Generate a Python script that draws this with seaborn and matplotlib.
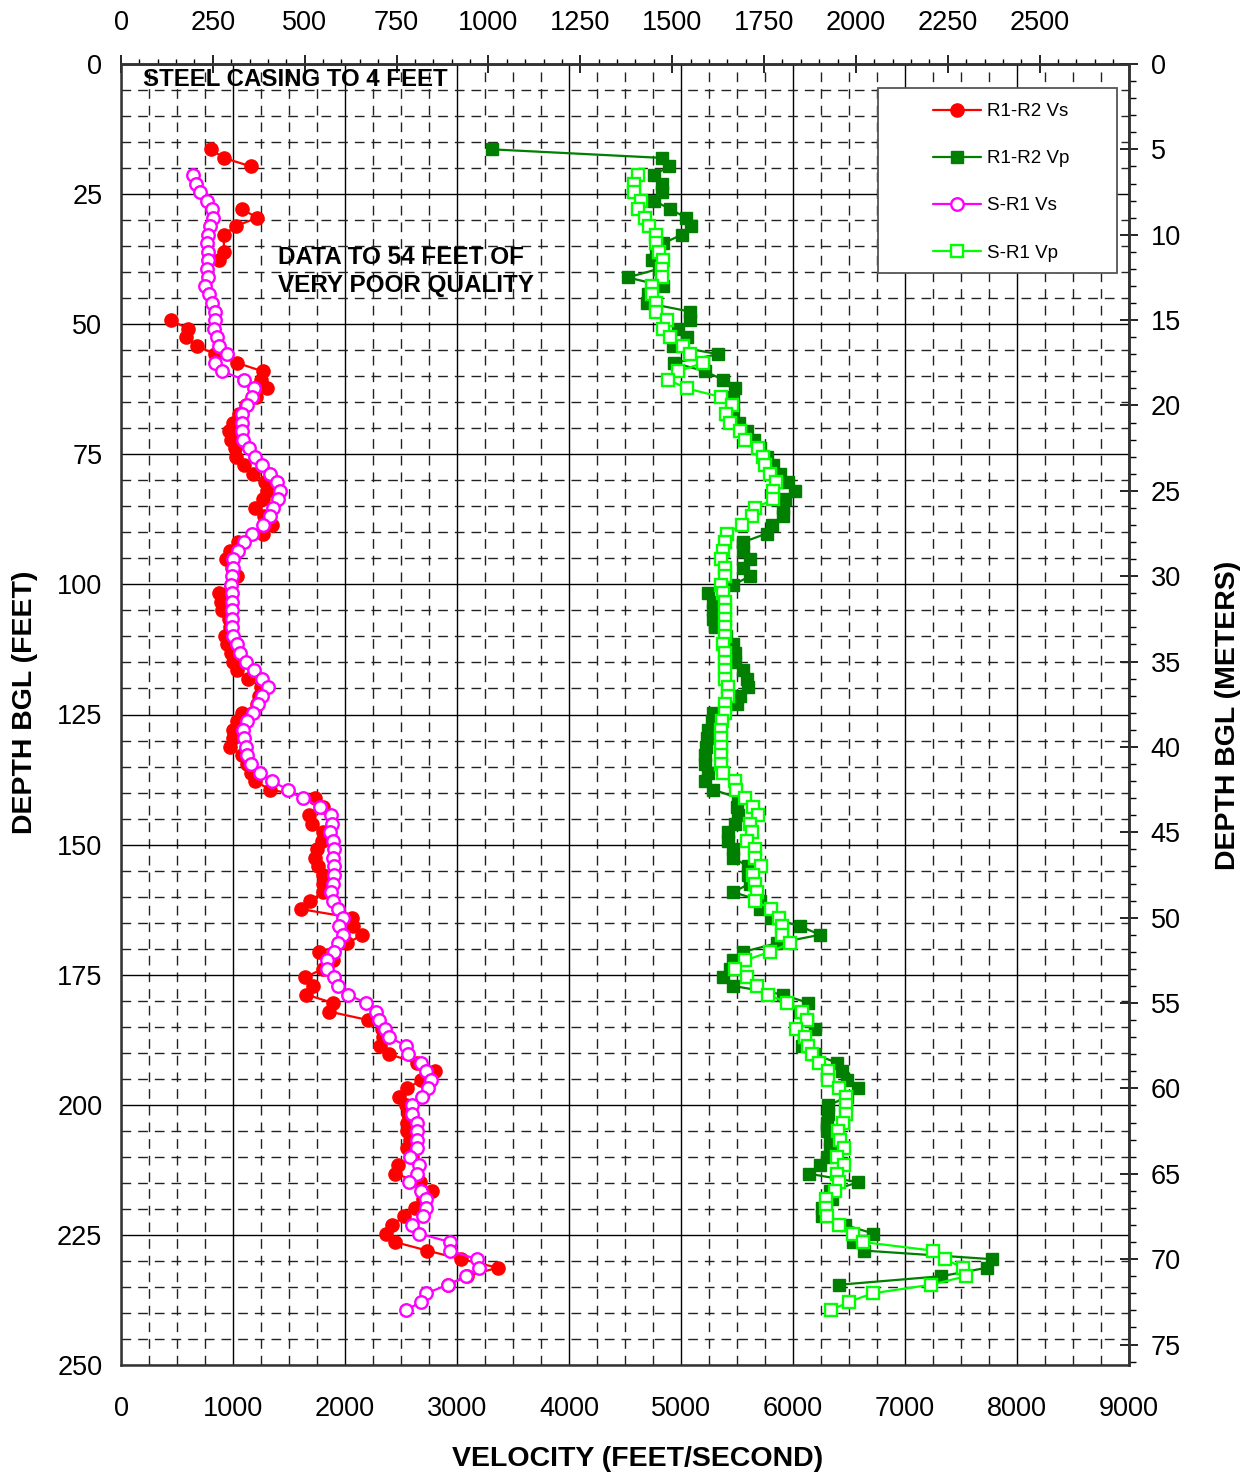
import numpy as np
import pandas as pd
import matplotlib
matplotlib.use("Agg")
import matplotlib.pyplot as plt
from matplotlib.ticker import MultipleLocator, FixedLocator
from matplotlib.lines import Line2D
from matplotlib.patches import Rectangle
import seaborn as sns

FT_PER_M = 3.28084

# ---------------- data (depth in metres, velocity in ft/s) ----------------
# R1-R2 Vs (NaN = gap in record)
r1_vs_depth_m = [5.0, 5.5, 6.0, 7.0, 8.5, 9.0, 9.5, 10.0, 11.0, 11.5, 12.0,
                 15.0, 15.5, 16.0, 16.5, 17.0, 17.5, 18.0, 18.5, 19.0, 19.5,
                 20.0, 20.5, 21.0, 21.5, 22.0, 22.5, 23.0, 23.5, 24.0, 24.5,
                 25.0, 25.5, 26.0, 26.5, 27.0, 27.5, 28.0, 28.5, 29.0, 29.5,
                 30.0, 30.5, 31.0, 31.5, 32.0, 32.5, 33.0, 33.5, 34.0, 34.5,
                 35.0, 35.5, 36.0, 36.5, 37.0, 37.5, 38.0, 38.5, 39.0, 39.5,
                 40.0, 40.5, 41.0, 41.5, 42.0, 42.5, 43.0, 43.5, 44.0, 44.5,
                 45.0, 45.5, 46.0, 46.5, 47.0, 47.5, 48.0, 48.5, 49.0, 49.5,
                 50.0, 50.5, 51.0, 51.5, 52.0, 52.5, 53.0, 53.5, 54.0, 54.5,
                 55.0, 55.5, 56.0, 56.5, 57.0, 57.5, 58.0, 58.5, 59.0, 59.5,
                 60.0, 60.5, 61.0, 61.5, 62.0, 62.5, 63.0, 63.5, 64.0, 64.5,
                 65.0, 65.5, 66.0, 66.5, 67.0, 67.5, 68.0, 68.5, 69.0, 69.5,
                 70.0, 70.5, 71.0, 71.5]
r1_vs_vel = [804, 917, 1161, np.nan, 1077, 1217, 1024, 917, 920, 875, np.nan,
             446, 595, 580, 676, 839, 1033, 1265, 1250, 1301, 1205,
             1120, 1057, 1003, 967, 982, 1018, 1024, 1101, 1181, 1286,
             1301, 1271, 1196, 1280, 1345, 1271, 1048, 973, 935, 990,
             1039, 980, 875, 890, 900, 960, 975, 929, 944, 980,
             1003, 1033, 1137, 1250, 1230, 1211, 1077, 1033, 1003, 1003,
             973, 1080, 1122, 1160, 1196, 1330, 1732, 1807, 1681, 1702,
             1807, 1792, 1747, 1732, 1762, 1801, 1801, 1807, 1688, 1607,
             2060, 2068, 2155, 2021, 1771, 1896, 1800, 1643, 1717, 1652,
             1896, 1860, 2208, 2330, 2340, 2312, 2393, 2640, 2804, 2680,
             2557, 2482, 2545, 2560, 2551, 2557, 2580, 2557, 2600, 2476,
             2447, 2670, 2774, 2700, 2625, 2527, 2417, 2366, 2447, 2735,
             3036, 3363, 3087, 2923]

# R1-R2 Vp
r1_vp_depth_m = [5.0, 5.5, 6.0, 6.5, 7.0, 7.5, 8.0, 8.5, 9.0, 9.5,
                 10.0, 10.5, 11.0, 11.5, 12.0, 12.5, 13.0, 13.5, 14.0, 14.5,
                 15.0, 15.5, 16.0, 16.5, 17.0, 17.5, 18.0, 18.5, 19.0, 19.5,
                 20.0, 20.5, 21.0, 21.5, 22.0, 22.5, 23.0, 23.5, 24.0, 24.5,
                 25.0, 25.5, 26.0, 26.5, 27.0, 27.5, 28.0, 28.5, 29.0, 29.5,
                 30.0, 30.5, 31.0, 31.5, 32.0, 32.5, 33.0, 33.5, 34.0, 34.5,
                 35.0, 35.5, 36.0, 36.5, 37.0, 37.5, 38.0, 38.5, 39.0, 39.5,
                 40.0, 40.5, 41.0, 41.5, 42.0, 42.5, 43.0, 43.5, 44.0, 44.5,
                 45.0, 45.5, 46.0, 46.5, 47.0, 47.5, 48.0, 48.5, 49.0, 49.5,
                 50.0, 50.5, 51.0, 51.5, 52.0, 52.5, 53.0, 53.5, 54.0, 54.5,
                 55.0, 55.5, 56.0, 56.5, 57.0, 57.5, 58.0, 58.5, 59.0, 59.5,
                 60.0, 60.5, 61.0, 61.5, 62.0, 62.5, 63.0, 63.5, 64.0, 64.5,
                 65.0, 65.5, 66.0, 66.5, 67.0, 67.5, 68.0, 68.5, 69.0, 69.5,
                 70.0, 70.5, 71.0, 71.5]
r1_vp_vel = [3315, 4828, 4893, 4759, 4828, 4828, 4759, 4902, 5045, 5087,
             5006, 4842, 4780, 4744, 4800, 4524, 4842, 4708, 4694, 5080,
             5080, 4976, 5051, 4926, 5333, 4938, 5214, 5378, 5482, 5467,
             5467, 5467, 5520, 5587, 5650, 5706, 5770, 5824, 5880, 5958,
             6018, 5929, 5914, 5914, 5810, 5765, 5557, 5557, 5616, 5557,
             5616, 5467, 5244, 5289, 5289, 5289, 5304, 5400, 5460, 5482,
             5482, 5550, 5587, 5601, 5527, 5497, 5289, 5274, 5244, 5229,
             5220, 5214, 5214, 5240, 5214, 5289, 5512, 5500, 5512, 5480,
             5423, 5423, 5467, 5467, 5601, 5601, 5616, 5467, 5706, 5706,
             5800, 6063, 6242, 5855, 5557, 5467, 5440, 5378, 5467, 5908,
             6137, 6063, 6123, 6197, 6100, 6078, 6197, 6390, 6440, 6480,
             6584, 6480, 6316, 6316, 6307, 6307, 6330, 6331, 6301, 6242,
             6146, 6584, 6331, 6346, 6257, 6257, 6465, 6717, 6539, 6637,
             7774, 7735, 7322, 6411]

# S-R1 Vs
s_vs_depth_m = [6.5, 7.0, 7.5, 8.0, 8.5, 9.0, 9.5, 10.0, 10.5, 11.0,
                11.5, 12.0, 12.5, 13.0, 13.5, 14.0, 14.5, 15.0, 15.5, 16.0,
                16.5, 17.0, 17.5, 18.0, 18.5, 19.0, 19.5, 20.0, 20.5, 21.0,
                21.5, 22.0, 22.5, 23.0, 23.5, 24.0, 24.5, 25.0, 25.5, 26.0,
                26.5, 27.0, 27.5, 28.0, 28.5, 29.0, 29.5, 30.0, 30.5, 31.0,
                31.5, 32.0, 32.5, 33.0, 33.5, 34.0, 34.5, 35.0, 35.5, 36.0,
                36.5, 37.0, 37.5, 38.0, 38.5, 39.0, 39.5, 40.0, 40.5, 41.0,
                41.5, 42.0, 42.5, 43.0, 43.5, 44.0, 44.5, 45.0, 45.5, 46.0,
                46.5, 47.0, 47.5, 48.0, 48.5, 49.0, 49.5, 50.0, 50.5, 51.0,
                51.5, 52.0, 52.5, 53.0, 53.5, 54.0, 54.5, 55.0, 55.5, 56.0,
                56.5, 57.0, 57.5, 58.0, 58.5, 59.0, 59.5, 60.0, 60.5, 61.0,
                61.5, 62.0, 62.5, 63.0, 63.5, 64.0, 64.5, 65.0, 65.5, 66.0,
                66.5, 67.0, 67.5, 68.0, 68.5, 69.0, 69.5, 70.0, 70.5, 71.0,
                71.5, 72.0, 72.5, 73.0]
s_vs_vel = [646, 670, 705, 765, 815, 824, 795, 780, 771, 780,
            774, 771, 774, 750, 783, 813, 836, 836, 830, 854,
            875, 943, 839, 905, 1100, 1188, 1167, 1122, 1077, 1077,
            1077, 1092, 1143, 1196, 1262, 1330, 1390, 1420, 1399, 1360,
            1330, 1271, 1167, 1101, 1048, 1003, 997, 988, 979, 988,
            994, 994, 988, 988, 1003, 1033, 1063, 1113, 1188, 1262,
            1315, 1262, 1220, 1181, 1122, 1092, 1098, 1113, 1122, 1158,
            1241, 1348, 1488, 1622, 1777, 1875, 1881, 1866, 1896, 1905,
            1896, 1905, 1905, 1896, 1872, 1890, 1941, 1985, 1949, 1985,
            1934, 1905, 1836, 1842, 1905, 1934, 2030, 2185, 2274, 2307,
            2357, 2393, 2545, 2566, 2676, 2723, 2765, 2744, 2685, 2596,
            2596, 2640, 2640, 2640, 2640, 2580, 2661, 2640, 2574, 2679,
            2723, 2723, 2700, 2596, 2661, 2938, 2938, 3176, 3199, 3080,
            2923, 2723, 2679, 2542]

# S-R1 Vp
s_vp_depth_m = list(s_vs_depth_m)
s_vp_vel = [4619, 4584, 4584, 4643, 4619, 4679, 4715, 4774, 4774, 4806,
            4836, 4828, 4828, 4744, 4744, 4774, 4777, 4872, 4842, 4902,
            5021, 5080, 5199, 4976, 4887, 5051, 5355, 5453, 5400, 5438,
            5527, 5572, 5691, 5735, 5750, 5795, 5846, 5824, 5824, 5661,
            5631, 5542, 5408, 5393, 5378, 5355, 5393, 5393, 5355, 5378,
            5393, 5393, 5393, 5393, 5393, 5378, 5393, 5393, 5393, 5393,
            5423, 5423, 5393, 5393, 5363, 5355, 5355, 5355, 5355, 5355,
            5378, 5482, 5491, 5572, 5646, 5691, 5616, 5637, 5587, 5661,
            5661, 5712, 5646, 5661, 5676, 5661, 5801, 5875, 5899, 5899,
            5974, 5795, 5572, 5482, 5587, 5682, 5780, 5950, 6078, 6128,
            6027, 6108, 6137, 6167, 6235, 6316, 6316, 6414, 6474, 6474,
            6474, 6450, 6400, 6420, 6456, 6390, 6456, 6396, 6414, 6375,
            6295, 6295, 6307, 6414, 6539, 6628, 7248, 7357, 7515, 7545,
            7232, 6711, 6500, 6337]

series_names = ["R1-R2 Vs", "R1-R2 Vp", "S-R1 Vs", "S-R1 Vp"]
top_ticks_ms = [0, 250, 500, 750, 1000, 1250, 1500, 1750, 2000, 2250, 2500]
right_ticks_m = [0, 5, 10, 15, 20, 25, 30, 35, 40, 45, 50, 55, 60, 65, 70, 75]

# ---------------- styling ----------------
sns.set_style("white")
plt.rcParams["font.family"] = ["Liberation Sans", "DejaVu Sans"]
plt.rcParams["lines.scale_dashes"] = False
for key in ["text.color", "axes.labelcolor", "xtick.color", "ytick.color"]:
    plt.rcParams[key] = "black"

fig = plt.figure(figsize=(12.52, 14.78), dpi=100)
ax = fig.add_axes([121 / 1252, 1 - 1365 / 1478, (1129 - 121) / 1252, (1365 - 64) / 1478])


def make_df(depth_m, vel):
    df = pd.DataFrame({"depth_m": depth_m, "vel": vel})
    df["depth_ft"] = df["depth_m"] * FT_PER_M
    df["seg"] = df["vel"].isna().cumsum()
    return df.dropna()


styles = [
    dict(color="#ff0000", marker="o", markersize=9.5, markerfacecolor="#ff0000",
         markeredgecolor="#ff0000", markeredgewidth=1.0),
    dict(color="#007f00", marker="s", markersize=9.0, markerfacecolor="#007f00",
         markeredgecolor="#007f00", markeredgewidth=1.0),
    dict(color="#ff00ff", marker="o", markersize=9.0, markerfacecolor="white",
         markeredgecolor="#ff00ff", markeredgewidth=1.7),
    dict(color="#00ff00", marker="s", markersize=9.0, markerfacecolor="white",
         markeredgecolor="#00ff00", markeredgewidth=1.7),
]
data = [(r1_vs_depth_m, r1_vs_vel), (r1_vp_depth_m, r1_vp_vel),
        (s_vs_depth_m, s_vs_vel), (s_vp_depth_m, s_vp_vel)]

for i, ((d, v), st) in enumerate(zip(data, styles)):
    df = make_df(d, v)
    sns.lineplot(data=df, x="vel", y="depth_ft", units="seg", estimator=None,
                 sort=False, ax=ax, legend=False, lw=1.6, zorder=3 + i * 0.1,
                 clip_on=False, **st)

ax.set_xlim(0, 9000)
ax.set_ylim(250, 0)
ax.set_xlabel("")
ax.set_ylabel("")

# grid
ax.xaxis.set_major_locator(MultipleLocator(1000))
ax.xaxis.set_minor_locator(MultipleLocator(250))
ax.yaxis.set_major_locator(MultipleLocator(25))
ax.yaxis.set_minor_locator(MultipleLocator(5))
ax.grid(which="major", color="#000000", lw=1.0, ls="-", zorder=1)
ax.grid(which="minor", color="#222222", lw=1.0, ls=(0, (7, 5)), zorder=1)
ax.set_axisbelow(True)

ax.tick_params(axis="x", which="major", direction="inout", length=13, width=1.2,
               pad=16, labelsize=19.5)
ax.tick_params(axis="x", which="minor", direction="out", length=5, width=1.0)
ax.tick_params(axis="y", which="major", direction="out", length=6.5, width=1.2,
               pad=7, labelsize=19.5)
ax.tick_params(axis="y", which="minor", direction="in", length=4.5, width=1.0)

for s in ax.spines.values():
    s.set_color("#333333")
    s.set_linewidth(1.8)

# secondary axes (metric)
secx = ax.secondary_xaxis("top", functions=(lambda x: x * 0.3048, lambda x: x / 0.3048))
secx.xaxis.set_major_locator(FixedLocator(top_ticks_ms))
secx.xaxis.set_minor_locator(MultipleLocator(50))
secx.tick_params(axis="x", which="major", direction="inout", length=13, width=1.2,
                 pad=13.5, labelsize=19.5)
secx.tick_params(axis="x", which="minor", direction="out", length=3.5, width=1.0)
secx.spines["top"].set_color("#333333")
secx.spines["top"].set_linewidth(1.8)

secy = ax.secondary_yaxis("right", functions=(lambda y: y / FT_PER_M, lambda y: y * FT_PER_M))
secy.yaxis.set_major_locator(FixedLocator(right_ticks_m))
secy.yaxis.set_minor_locator(MultipleLocator(1))
secy.tick_params(axis="y", which="major", direction="inout", length=13, width=1.2,
                 pad=9, labelsize=19.5)
secy.tick_params(axis="y", which="minor", direction="out", length=5, width=1.0)
secy.spines["right"].set_color("#333333")
secy.spines["right"].set_linewidth(1.8)

# annotations
ax.text(196, 3.07, "STEEL CASING TO 4 FEET", fontsize=17.3, fontweight="bold",
        ha="left", va="center", zorder=6, color="black")
ax.text(1402, 39.9, "DATA TO 54 FEET OF\nVERY POOR QUALITY", fontsize=17.5,
        fontweight="bold", ha="left", va="center", linespacing=1.3, zorder=6,
        color="black")

# legend box
ax.add_patch(Rectangle((0.751, 0.8394), 0.2371, 0.1422, transform=ax.transAxes,
                       facecolor="white", edgecolor="#555555", lw=1.3, zorder=8,
                       clip_on=False))
handles = [Line2D([0], [0], lw=1.6, **st) for st in styles]
leg = ax.legend(handles, series_names, loc="upper left",
                bbox_to_anchor=((933 - 121) / 1008, 1 - (103 - 64) / 1301),
                frameon=False, fontsize=13.5, handlelength=2.55, handletextpad=0.35,
                labelspacing=1.6, borderpad=0, borderaxespad=0)
leg.set_zorder(9)

# axis titles
fig.text(638 / 1252, 1 - 1459 / 1478, "VELOCITY (FEET/SECOND)", fontsize=20.5,
         fontweight="bold", ha="center", va="center", color="black")
fig.text(25 / 1252, 1 - 702 / 1478, "DEPTH BGL (FEET)", fontsize=20.5,
         fontweight="bold", ha="center", va="center", rotation=90, color="black")
fig.text(1228 / 1252, 1 - 715 / 1478, "DEPTH BGL (METERS)", fontsize=20.5,
         fontweight="bold", ha="center", va="center", rotation=90, color="black")

fig.savefig("out.png", dpi=100, facecolor="white")
